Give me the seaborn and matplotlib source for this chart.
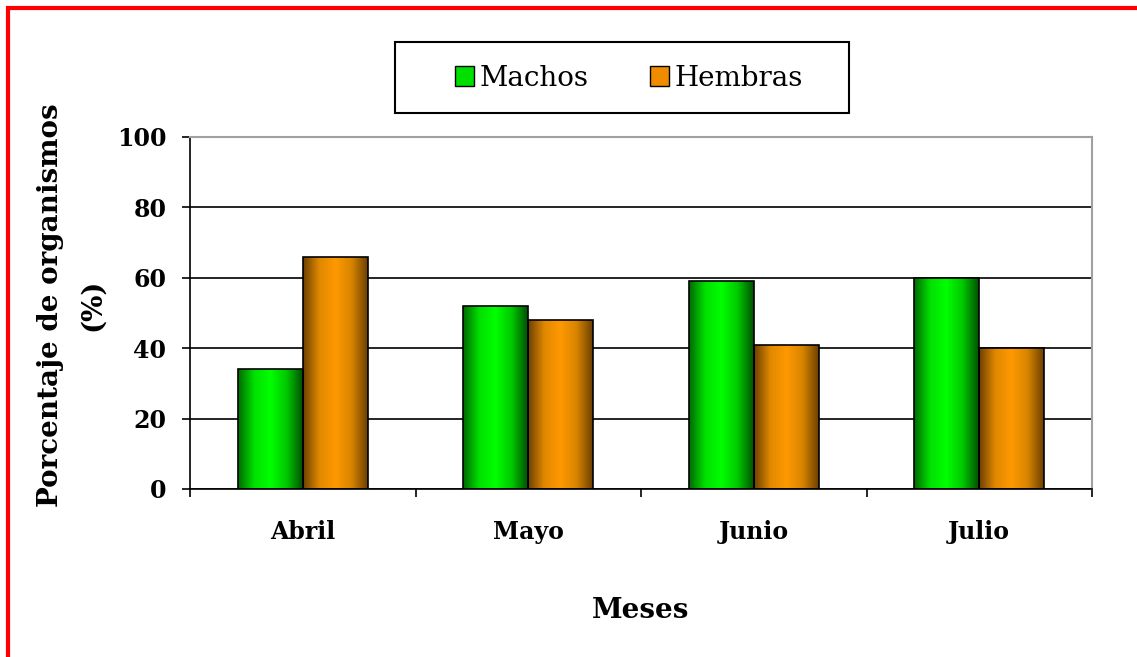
import numpy as np
import pandas as pd
import seaborn as sns
import matplotlib.pyplot as plt
from matplotlib.colors import LinearSegmentedColormap
from matplotlib.patches import Rectangle, Patch

# datos
meses = ["Abril", "Mayo", "Junio", "Julio"]
machos = [34, 52, 59, 60]
hembras = [66, 48, 41, 40]
series = ["Machos", "Hembras"]

df = pd.DataFrame({
    "Mes": meses * 2,
    "Sexo": ["Machos"] * 4 + ["Hembras"] * 4,
    "Porcentaje": machos + hembras,
})

sns.set_style("white")
plt.rcParams["font.family"] = ["DejaVu Serif"]
plt.rcParams["text.color"] = "black"
plt.rcParams["axes.labelcolor"] = "black"
plt.rcParams["xtick.color"] = "black"
plt.rcParams["ytick.color"] = "black"

fig = plt.figure(figsize=(11.37, 6.57), dpi=100)
ax = fig.add_axes([190 / 1137, 1 - 489 / 657, 902 / 1137, 352 / 657])

sns.barplot(data=df, x="Mes", y="Porcentaje", hue="Sexo", order=meses,
            hue_order=series, palette=["#00ff00", "#ff9900"],
            width=0.575, edgecolor="black", linewidth=1.2, legend=False, ax=ax)

# degradado horizontal tipo Excel
grad = {
    "Machos": LinearSegmentedColormap.from_list("g", ["#006a00", "#00e000", "#00ff00", "#00c800", "#005000"]),
    "Hembras": LinearSegmentedColormap.from_list("o", ["#6b4000", "#e08800", "#ff9900", "#d88400", "#6b4000"]),
}
strip = np.linspace(0, 1, 256).reshape(1, -1)
for cont, name in zip(ax.containers, series):
    for bar in cont:
        x0, y0 = bar.get_x(), bar.get_y()
        w, h = bar.get_width(), bar.get_height()
        im = ax.imshow(strip, cmap=grad[name], aspect="auto",
                       extent=[x0, x0 + w, y0, y0 + h], zorder=bar.get_zorder(),
                       interpolation="bilinear")
        im.set_clip_path(bar)
        bar.set_facecolor("none")
        bar.set_zorder(bar.get_zorder() + 0.1)

ax.set_xlim(-0.5, 3.5)
ax.set_ylim(0, 100)
ax.set_yticks([0, 20, 40, 60, 80, 100])
ax.yaxis.grid(True, color="black", linewidth=1.2)
ax.set_axisbelow(True)

# ticks en los limites de categoria
ax.set_xticks([-0.5, 0.5, 1.5, 2.5, 3.5])
ax.set_xticklabels([])
ax.set_xticks([0, 1, 2, 3], minor=True)
ax.set_xticklabels(meses, minor=True, fontsize=17, fontweight="bold")
ax.tick_params(axis="x", which="major", bottom=True, direction="out", length=6, width=1.2)
ax.tick_params(axis="x", which="minor", bottom=True, length=0, pad=22)
ax.tick_params(axis="y", left=True, direction="out", length=6, width=1.2, labelsize=17, pad=11)
for lab in ax.get_yticklabels():
    lab.set_fontweight("bold")

for s in ["left", "bottom"]:
    ax.spines[s].set_color("black")
    ax.spines[s].set_linewidth(1.2)
for s in ["top", "right"]:
    ax.spines[s].set_color("#a0a0a0")
    ax.spines[s].set_linewidth(1.5)

ax.set_xlabel("Meses", fontsize=20, fontweight="bold")
ax.xaxis.set_label_coords(0.5, (489 - 597) / 352)
ax.set_ylabel("Porcentaje de organismos\n(%)", fontsize=20, fontweight="bold",
              linespacing=1.7)
ax.yaxis.set_label_coords((106 - 190) / 902, (489 - 305) / 352)

# leyenda con marco propio
handles = [Patch(facecolor="#00e000", edgecolor="black"),
           Patch(facecolor="#f08c00", edgecolor="black")]
fig.legend(handles, series, loc="center", bbox_to_anchor=(629 / 1137, 1 - 78 / 657),
           ncol=2, fontsize=20, frameon=False,
           handlelength=0.7, handleheight=0.7, handletextpad=0.2, columnspacing=2.2)
fig.patches.append(Rectangle((395 / 1137, 1 - 113 / 657), 454 / 1137, 71 / 657,
                             transform=fig.transFigure, fill=False,
                             edgecolor="black", linewidth=1.5))

# marco rojo
fig.patches.append(Rectangle((8 / 1137, -0.1), 1.2, 1.1 - 8 / 657, transform=fig.transFigure,
                             fill=False, edgecolor="red", linewidth=3))

fig.savefig("out.png", dpi=100)
